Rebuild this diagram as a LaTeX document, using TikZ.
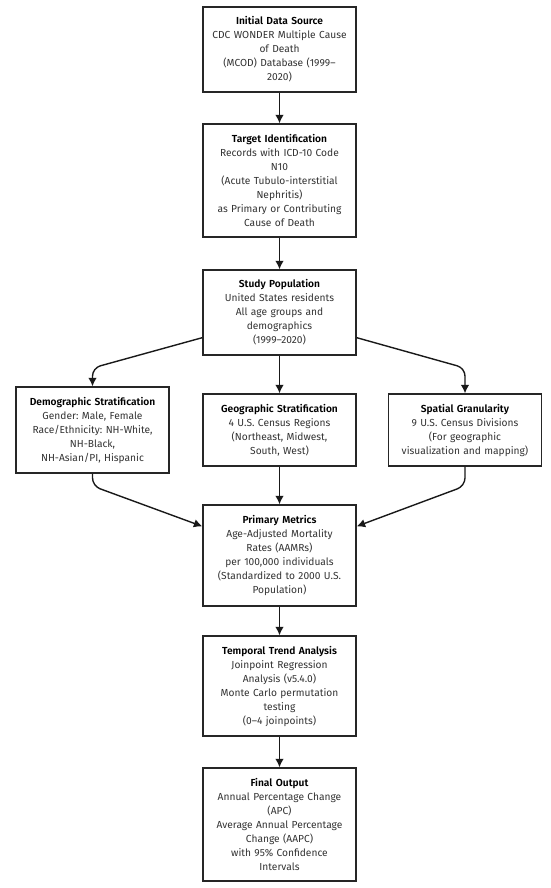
\documentclass[tikz,border=0pt]{standalone}
\usepackage{fontspec}
\setmainfont{Fira Sans}[BoldFont={Fira Sans SemiBold}]
\usetikzlibrary{arrows.meta, positioning}
\frenchspacing

\begin{document}
\begin{tikzpicture}[x=1pt, y=-1pt,
		box/.style={draw=black!85, line width=1.3pt, fill=white, align=center, text width=150pt, inner xsep=1.5pt, inner ysep=0pt, text=black!80, font=\fontsize{10.2}{14}\selectfont},
		flow/.style={-{Latex[length=8.5pt,width=8.5pt]}, line width=1.4pt, draw=black!90, rounded corners=8pt}]
	\useasboundingbox (0,0) rectangle (550,888);
	% main column
	\node[box, minimum height=85pt] (src) at (279.5,49.5) {\textbf{\color{black}Initial Data Source}\\CDC WONDER Multiple Cause\\of Death\\(MCOD) Database (1999--\\2020)};
	\node[box, minimum height=113pt] (target) at (279.5,180.5) {\textbf{\color{black}Target Identification}\\Records with ICD-10 Code\\N10\\(Acute Tubulo-interstitial\\Nephritis)\\as Primary or Contributing\\Cause of Death};
	\node[box, minimum height=85pt] (pop) at (279.5,312.5) {\textbf{\color{black}Study Population}\\United States residents\\All age groups and\\demographics\\(1999--2020)};
	% stratification row
	\node[box, minimum height=86pt] (demo) at (92.5,430) {\textbf{\color{black}Demographic Stratification}\\Gender: Male, Female\\Race/Ethnicity: NH-White,\\NH-Black,\\NH-Asian/PI, Hispanic};
	\node[box, minimum height=72pt] (geo) at (279.5,430) {\textbf{\color{black}Geographic Stratification}\\4 U.S. Census Regions\\(Northeast, Midwest,\\South, West)};
	\node[box, minimum height=72pt] (spat) at (465,430) {\textbf{\color{black}Spatial Granularity}\\9 U.S. Census Divisions\\(For geographic\\visualization and mapping)};
	% analysis
	\node[box, minimum height=101pt] (metrics) at (279.5,555.5) {\textbf{\color{black}Primary Metrics}\\Age-Adjusted Mortality\\Rates (AAMRs)\\per 100,000 individuals\\(Standardized to 2000 U.S.\\Population)};
	\node[box, minimum height=100pt] (trend) at (279.5,686) {\textbf{\color{black}Temporal Trend Analysis}\\Joinpoint Regression\\Analysis (v5.4.0)\\Monte Carlo permutation\\testing\\(0--4 joinpoints)};
	\node[box, minimum height=113pt] (out) at (279.5,824.5) {\textbf{\color{black}Final Output}\\Annual Percentage Change\\(APC)\\Average Annual Percentage\\Change (AAPC)\\with 95\% Confidence\\Intervals};
	% bends
	\coordinate (inL) at (92.5,368);
	\coordinate (inR) at (465,368);
	\coordinate (outL) at (92.5,486);
	\coordinate (outR) at (465,486);
	% connectors
	\draw[flow] (src) -- (target);
	\draw[flow] (target) -- (pop);
	\draw[flow] ([yshift=18pt]pop.south west) -- (inL) -- (demo.north);
	\draw[flow] (pop) -- (geo);
	\draw[flow] ([yshift=18pt]pop.south east) -- (inR) -- (spat.north);
	\draw[flow] (demo.south) -- (outL) -- ([yshift=-22pt]metrics.north west);
	\draw[flow] (geo) -- (metrics);
	\draw[flow] (spat.south) -- (outR) -- ([yshift=-22pt]metrics.north east);
	\draw[flow] (metrics) -- (trend);
	\draw[flow] (trend) -- (out);
\end{tikzpicture}
\end{document}
